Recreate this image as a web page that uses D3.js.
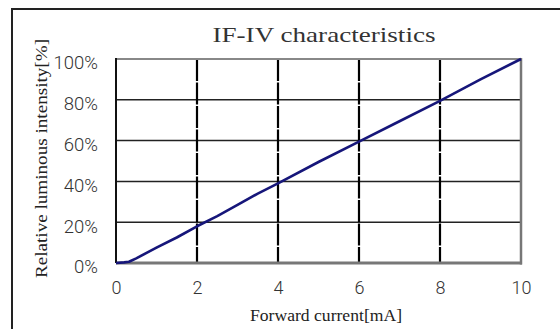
<!DOCTYPE html>
<html><head><meta charset="utf-8">
<script src="https://cdn.jsdelivr.net/npm/d3@7"></script>
<style>body{margin:0;background:#fff}svg{display:block}</style>
</head><body>
<svg id="c" width="560" height="329"></svg>
<script>
const current = [0, 0.2, 0.32, 0.5, 1, 1.5, 2, 2.5, 3, 3.5, 4, 5, 6, 7, 8, 9, 10];
const intensity = [0, 0.3, 0.6, 2.3, 7.5, 12.5, 18, 23, 28.5, 34, 39, 49.5, 59.5, 69.5, 79.5, 90, 100];
const xTicks = [0, 2, 4, 6, 8, 10];
const yTicks = [0, 20, 40, 60, 80, 100];
const title = "IF-IV characteristics";
const xTitle = "Forward current[mA]";
const yTitle = "Relative luminous intensity[%]";

const svg = d3.select("#c");
const x = d3.scaleLinear().domain([0, 10]).range([116, 521]);
const y = d3.scaleLinear().domain([0, 100]).range([263, 59]);

// outer frame
svg.append("path").attr("d", "M12,329 L12,9 L560,9").attr("fill", "none")
  .attr("stroke", "#222").attr("stroke-width", 2);

// horizontal gridlines
svg.append("g").selectAll("line").data(yTicks.filter(d => d > 0 && d < 100)).join("line")
  .attr("x1", x(0)).attr("x2", x(10)).attr("y1", d => y(d)).attr("y2", d => y(d))
  .attr("stroke", "#222").attr("stroke-width", 1.5);
// vertical gridlines
svg.append("g").selectAll("line").data(xTicks.filter(d => d > 0 && d < 10)).join("line")
  .attr("x1", d => x(d)).attr("x2", d => x(d)).attr("y1", y(100)).attr("y2", y(0))
  .attr("stroke", "#000").attr("stroke-width", 2.2).attr("stroke-dasharray", "22,1.5");

// plot border
svg.append("line").attr("x1", x(0)).attr("x2", x(10)).attr("y1", y(100)).attr("y2", y(100)).attr("stroke", "#888").attr("stroke-width", 2);
svg.append("line").attr("x1", x(10)).attr("x2", x(10)).attr("y1", y(100) - 1).attr("y2", y(0) + 1.5).attr("stroke", "#777").attr("stroke-width", 2.5);
svg.append("line").attr("x1", x(0)).attr("x2", x(10) + 1).attr("y1", y(0)).attr("y2", y(0)).attr("stroke", "#777").attr("stroke-width", 3);
svg.append("line").attr("x1", x(0)).attr("x2", x(0)).attr("y1", y(100) - 1).attr("y2", y(0)).attr("stroke", "#111").attr("stroke-width", 2);

// data line
const line = d3.line().x((d, i) => x(current[i])).y((d, i) => y(intensity[i]));
svg.append("path").datum(current).attr("d", line).attr("fill", "none")
  .attr("stroke", "#16167a").attr("stroke-width", 2.6).attr("stroke-linejoin", "round");

const tickFont = "Roboto, Liberation Sans, Arial, sans-serif";
// axes labels via d3 axes
const xAxis = d3.axisBottom(x).tickValues(xTicks).tickSize(0).tickPadding(0).tickFormat(d3.format("d"));
const gx = svg.append("g").attr("transform", "translate(0,294)").call(xAxis);
gx.select(".domain").remove();
gx.selectAll("text").attr("dy", 0).attr("y", 0)
  .attr("font-family", tickFont).attr("font-weight", 300).attr("font-size", 18).attr("fill", "#333");

const yAxis = d3.axisLeft(y).tickValues(yTicks).tickSize(0).tickPadding(0).tickFormat(d => d + "%");
const gy = svg.append("g").attr("transform", "translate(98,0)").call(yAxis);
gy.select(".domain").remove();
gy.selectAll("text").attr("dy", "0.45em").attr("x", 0).attr("y", 1.5)
  .attr("font-family", tickFont).attr("font-weight", 300).attr("font-size", 18.5).attr("fill", "#333");

// titles
svg.append("text").attr("x", 324).attr("y", 41.5).attr("text-anchor", "middle")
  .attr("font-family", "Liberation Serif, Times New Roman, serif").attr("font-size", 22)
  .attr("textLength", 223).attr("lengthAdjust", "spacingAndGlyphs").attr("fill", "#333").text(title);
svg.append("text").attr("x", 326).attr("y", 321).attr("text-anchor", "middle")
  .attr("font-family", "Liberation Serif, Times New Roman, serif").attr("font-size", 16)
  .attr("textLength", 152).attr("lengthAdjust", "spacingAndGlyphs").attr("fill", "#222").text(xTitle);
svg.append("text").attr("transform", "translate(47,158.5) rotate(-90)").attr("text-anchor", "middle")
  .attr("font-family", "Liberation Serif, Times New Roman, serif").attr("font-size", 16)
  .attr("textLength", 239).attr("lengthAdjust", "spacingAndGlyphs").attr("fill", "#222").text(yTitle);
</script>
</body></html>
